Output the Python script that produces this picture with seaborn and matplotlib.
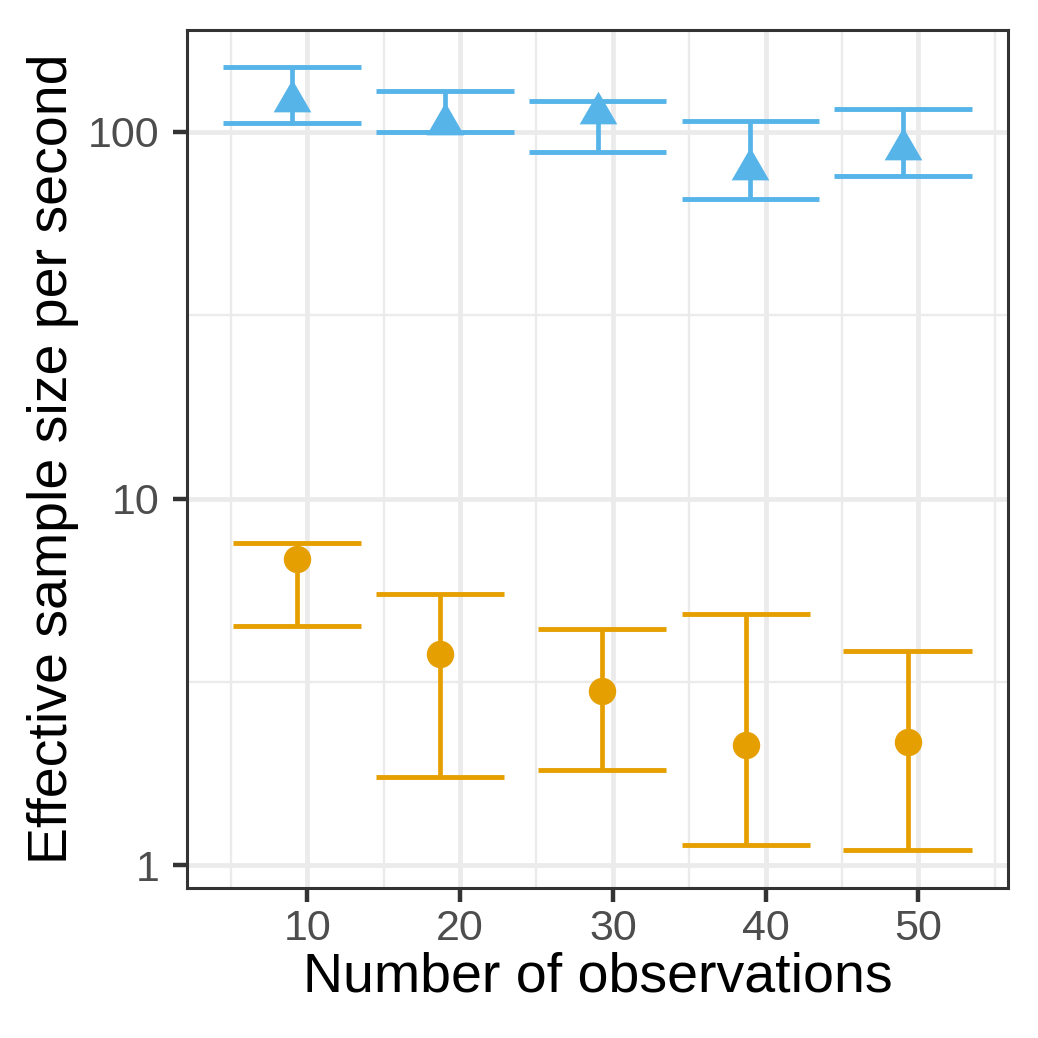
import numpy as np
import pandas as pd
import matplotlib
matplotlib.use("Agg")
import matplotlib.pyplot as plt
from matplotlib.ticker import FixedLocator, NullFormatter
import seaborn as sns

# Données
n_obs = [10, 20, 30, 40, 50]

fast_x = [9.0, 19.0, 29.0, 39.0, 49.0]
fast_ess = [121.0, 105.0, 112.0, 79.1, 89.8]
fast_lo = [105.3, 99.5, 87.8, 65.6, 75.8]
fast_hi = [149.9, 129.0, 120.9, 106.6, 115.0]

slow_x = [9.3, 18.7, 29.3, 38.7, 49.3]
slow_ess = [6.84, 3.76, 2.99, 2.13, 2.17]
slow_lo = [4.49, 1.74, 1.82, 1.14, 1.10]
slow_hi = [7.55, 5.50, 4.40, 4.85, 3.84]

blue = "#56B4E9"
orange = "#E69F00"

df_fast = pd.DataFrame({"x": fast_x, "ess": fast_ess, "lo": fast_lo, "hi": fast_hi})
df_slow = pd.DataFrame({"x": slow_x, "ess": slow_ess, "lo": slow_lo, "hi": slow_hi})

sns.set_theme(style="white")
plt.rcParams["font.family"] = ["Liberation Sans", "DejaVu Sans"]

fig = plt.figure(figsize=(10.38, 10.38), dpi=100)
ax = fig.add_axes([187 / 1038, 150 / 1038, 821 / 1038, 858 / 1038])

# Barres d'erreur
def errbars(d, w, col):
    ax.vlines(d["x"], d["lo"], d["hi"], color=col, lw=3.4, zorder=3)
    ax.hlines(d["lo"], d["x"] - w / 2, d["x"] + w / 2, color=col, lw=3.5, zorder=3)
    ax.hlines(d["hi"], d["x"] - w / 2, d["x"] + w / 2, color=col, lw=3.5, zorder=3)

errbars(df_fast, 9.0, blue)
errbars(df_slow, 8.4, orange)

# Triangle centré sur son barycentre (comme pch 17)
tri = [(0, 1), (-0.866, -0.5), (0.866, -0.5), (0, 1)]
sns.scatterplot(data=df_fast, x="x", y="ess", marker=tri, s=980, color=blue,
                linewidth=0, ax=ax, zorder=4)
sns.scatterplot(data=df_slow, x="x", y="ess", marker="o", s=390, color=orange,
                linewidth=0, ax=ax, zorder=4)

ax.set_yscale("log")
ax.set_xlim(2.12, 55.87)
ax.set_ylim(0.8683, 189.1)

ax.xaxis.set_major_locator(FixedLocator(n_obs))
ax.xaxis.set_minor_locator(FixedLocator([5, 15, 25, 35, 45, 55]))
ax.yaxis.set_major_locator(FixedLocator([1, 10, 100]))
ax.yaxis.set_minor_locator(FixedLocator([10 ** 0.5, 10 ** 1.5]))
ax.set_yticklabels(["1", "10", "100"])
ax.yaxis.set_minor_formatter(NullFormatter())

ax.grid(which="major", color="#EBEBEB", lw=3.4, zorder=0)
ax.grid(which="minor", color="#EBEBEB", lw=1.7, zorder=0)
ax.set_axisbelow(True)

for s in ax.spines.values():
    s.set_color("#333333")
    s.set_linewidth(2.2)
    s.set_visible(True)

ax.tick_params(which="major", direction="out", length=10, width=3.2, color="#333333",
               labelsize=31, labelcolor="#4D4D4D", bottom=True, left=True)
ax.tick_params(axis="x", which="major", pad=5)
ax.tick_params(axis="y", which="major", pad=10)
ax.tick_params(which="minor", length=0)

ax.set_xlabel("Number of observations", fontsize=40, color="black", labelpad=2)
ax.set_ylabel("Effective sample size per second", fontsize=40, color="black", labelpad=6)

fig.savefig("out.png", dpi=100)
